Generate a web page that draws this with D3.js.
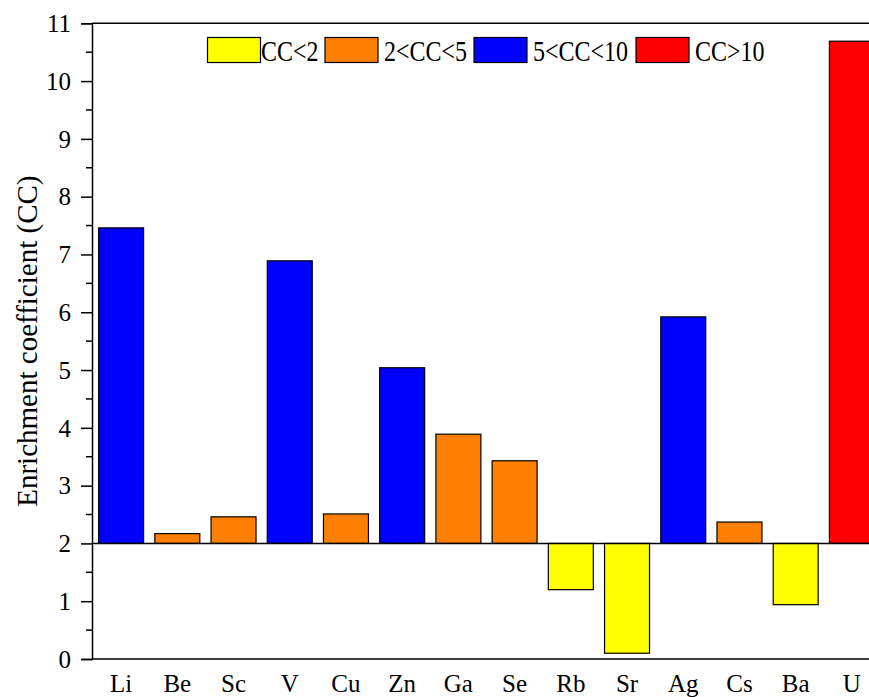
<!DOCTYPE html>
<html><head><meta charset="utf-8">
<script src="https://cdn.jsdelivr.net/npm/d3@7"></script>
<style>body{margin:0;background:#fff;} svg{display:block;} svg text{font-family:'Liberation Serif','Times New Roman',serif !important;}</style>
</head><body>
<script>
const elements = ["Li","Be","Sc","V","Cu","Zn","Ga","Se","Rb","Sr","Ag","Cs","Ba","U"];
const ccValues = [7.46,2.17,2.46,6.89,2.51,5.04,3.89,3.43,1.2,0.1,5.92,2.37,0.94,10.69];
const yTicks = [0,1,2,3,4,5,6,7,8,9,10,11];
const legendLabels = ["CC<2","2<CC<5","5<CC<10","CC>10"];
const legendColors = ["#FFFF00","#FF8000","#0000FF","#FF0000"];
const baseline = 2;

function colorOf(v){ return v<2?legendColors[0]:v<5?legendColors[1]:v<10?legendColors[2]:legendColors[3]; }

const W=869,H=697;
const m={left:92,top:23.3,right:879,bottom:659};
const svg=d3.select("body").append("svg").attr("width",W).attr("height",H);

const x=d3.scaleBand().domain(elements).range([m.left+1,m.right+1]).paddingInner(0.2).paddingOuter(0.1);
const y=d3.scaleLinear().domain([0,11]).range([m.bottom,m.top]);

// bars
svg.append("g").selectAll("rect").data(elements).join("rect")
  .attr("x",d=>x(d))
  .attr("width",x.bandwidth())
  .attr("y",(d,i)=>y(Math.max(ccValues[i],baseline)))
  .attr("height",(d,i)=>Math.abs(y(ccValues[i])-y(baseline)))
  .attr("fill",(d,i)=>colorOf(ccValues[i]))
  .attr("stroke","#000").attr("stroke-width",1.2);

// baseline line at 2
svg.append("line").attr("x1",m.left).attr("x2",m.right).attr("y1",y(baseline)).attr("y2",y(baseline))
  .attr("stroke","#000").attr("stroke-width",1.5);

// frame top & bottom
svg.append("line").attr("x1",m.left).attr("x2",m.right).attr("y1",m.top).attr("y2",m.top).attr("stroke","#000").attr("stroke-width",1.5);
svg.append("line").attr("x1",m.left).attr("x2",m.right).attr("y1",m.bottom).attr("y2",m.bottom).attr("stroke","#000").attr("stroke-width",1.5);

// y axis
const yAxis=svg.append("g").attr("transform",`translate(${m.left},0)`)
  .call(d3.axisLeft(y).tickValues(yTicks).tickFormat(d3.format("d")).tickSize(11).tickPadding(10));
yAxis.attr("font-family",null);
yAxis.select(".domain").attr("stroke-width",1.5);
yAxis.selectAll(".tick line").attr("stroke-width",1.5);
yAxis.selectAll("text").attr("font-size",25).attr("fill","#000").attr("dy","0.33em");
// minor ticks
svg.append("g").selectAll("line").data(d3.range(0.5,11,1)).join("line")
  .attr("x1",m.left-6).attr("x2",m.left).attr("y1",d=>y(d)).attr("y2",d=>y(d))
  .attr("stroke","#000").attr("stroke-width",1.5);

// x labels
const xAxis=svg.append("g").attr("transform",`translate(0,${m.bottom})`)
  .call(d3.axisBottom(x).tickSize(0).tickPadding(15));
xAxis.attr("font-family",null);
xAxis.select(".domain").remove();
xAxis.selectAll("text").attr("font-size",25).attr("fill","#000");

// y title
svg.append("text").attr("transform",`translate(37,${(m.top+m.bottom)/2}) rotate(-90)`)
  .attr("text-anchor","middle").attr("font-size",29).text("Enrichment coefficient (CC)");

// legend
const legX=[207.5,325,474,636];
const lg=svg.append("g");
legendLabels.forEach((l,i)=>{
  lg.append("rect").attr("x",legX[i]).attr("y",37.5).attr("width",53).attr("height",25)
    .attr("fill",legendColors[i]).attr("stroke","#000").attr("stroke-width",1.2);
  lg.append("text").attr("transform",`translate(${legX[i]+53+(i===0?0.5:6)},60.5) scale(1,1.2)`)
    .attr("font-size",24).text(l);
});
</script>
</body></html>
